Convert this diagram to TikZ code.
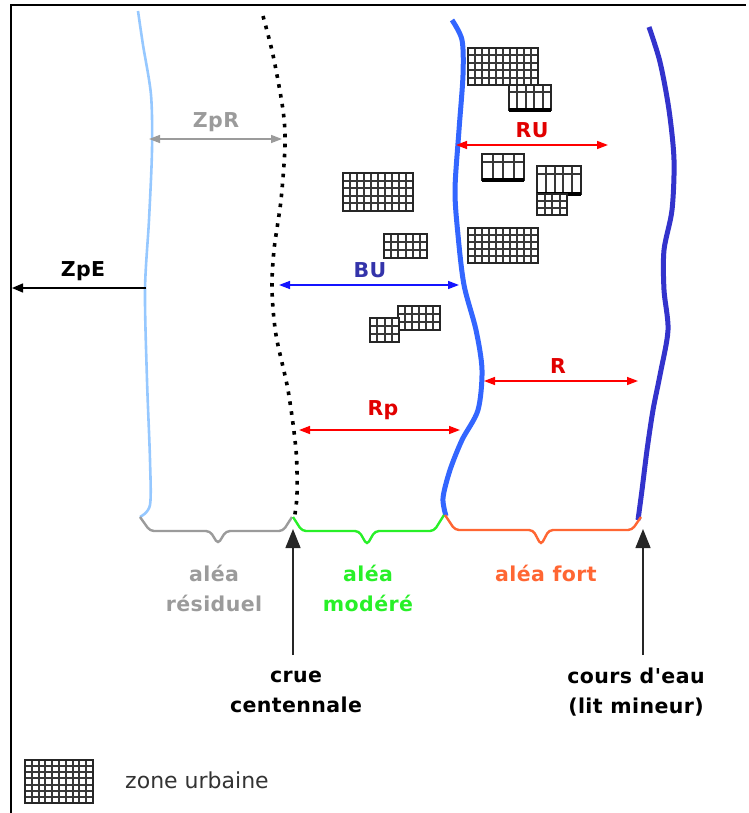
\documentclass[tikz,border=0pt]{standalone}
\usepackage{fontspec}
\setmainfont{DejaVu Sans}
\newfontfamily\lblfont[LetterSpace=2]{DejaVu Sans}
\usetikzlibrary{arrows.meta}
\definecolor{lblue}{RGB}{150,200,255}
\definecolor{mblue}{RGB}{51,102,255}
\definecolor{dblue}{RGB}{51,51,204}
\definecolor{bublue}{RGB}{20,20,255}
\definecolor{butext}{RGB}{51,51,170}
\definecolor{zgray}{RGB}{155,155,155}
\definecolor{zgreen}{RGB}{40,240,40}
\definecolor{zorange}{RGB}{255,102,51}
\definecolor{zred}{RGB}{255,0,0}
\definecolor{zredtxt}{RGB}{225,0,0}
\newcommand{\ublk}[6]{%
  \fill[white] (#1,#2) rectangle (#3,#4);
  \foreach \k in {1,...,#5}{\draw[gline] ({#1+(#3-#1)*\k/(#5+1)},#2) -- ({#1+(#3-#1)*\k/(#5+1)},#4);}
  \foreach \k in {1,...,#6}{\draw[gline] (#1,{#2+(#4-#2)*\k/(#6+1)}) -- (#3,{#2+(#4-#2)*\k/(#6+1)});}
  \draw[gborder] (#1,#2) rectangle (#3,#4);}
\newcommand{\ublkc}[5]{%
  \fill[white] (#1,#2) rectangle (#3,#4);
  \foreach \k in {1,...,#5}{\draw[gline] ({#1+(#3-#1)*\k/(#5+1)},#2) -- ({#1+(#3-#1)*\k/(#5+1)},#4);}
  \draw[gline] (#1,{#2+(#4-#2)*0.3}) -- (#3,{#2+(#4-#2)*0.3});
  \draw[gborder] (#1,#2) rectangle (#3,#4);
  \draw[line width=3.2pt,black] (#1,#4) -- (#3,#4);}
\begin{document}
\begin{tikzpicture}[x=1pt,y=-1pt,
  gline/.style={line width=2pt,black!78},
  gborder/.style={line width=2.2pt,black!85},
  lbl/.style={font=\fontsize{20.5}{30}\lblfont\bfseries, inner sep=0pt, align=center},
  dimarr/.style={line width=1.5pt,{Triangle[length=11pt,width=8pt]}-{Triangle[length=11pt,width=8pt]}},
  brace/.style={line width=2.4pt, rounded corners=4pt},
  uparr/.style={line width=1.3pt,black!85,-{Triangle[length=19pt,width=15pt]}}]
\useasboundingbox (0,0) rectangle (748,813);
% frame
\draw[line width=1.6pt] (11,813) -- (11,5) -- (746,5);

% limits
\draw[lblue, line width=2.6pt] plot[smooth] coordinates {(138,11) (143,45) (151,95) (152,150) (149,220) (145,290) (147,380) (150,460) (150,505) (140,517)};
\draw[black, line width=3.6pt, dash pattern=on 3.6pt off 6.4pt] plot[smooth] coordinates {(263,16) (273,55) (283,110) (285,145) (281,200) (274,250) (272,290) (276,335) (288,390) (296,450) (297,495) (294,520)};
\draw[mblue, line width=5pt] plot[smooth] coordinates {(452,20) (462,40) (463,75) (459,130) (455,190) (458,235) (464,285) (476,330) (482,370) (478,410) (462,440) (450,470) (443,498) (446,516)};
\draw[dblue, line width=5pt] plot[smooth] coordinates {(649,27) (660,62) (669,110) (674,160) (672,210) (664,250) (664,290) (668,330) (660,375) (653,410) (647,450) (642,490) (638,520)};

% urban blocks
\ublk{468}{48}{538}{85}{9}{4}
\ublkc{509}{85}{551}{110}{4}
\ublkc{482}{154}{524}{180}{3}
\ublkc{537}{166}{581}{194}{4}
\ublk{537}{194}{567}{215}{3}{2}
\ublk{468}{228}{538}{263}{9}{4}
\ublk{343}{173}{413}{211}{9}{4}
\ublk{384}{234}{427}{258}{5}{2}
\ublk{398}{306}{440}{330}{5}{2}
\ublk{370}{318}{399}{342}{3}{2}

% dimension arrows
\coordinate (zpeA) at (146,288);
\coordinate (zpeB) at (12,288);
\draw[line width=1.5pt,-{Triangle[length=11pt,width=9pt]}] (zpeA) -- (zpeB);
\node[lbl] (zpe) at (83,271) {ZpE};

\coordinate (zprA) at (149,139);
\coordinate (zprB) at (282,139);
\draw[dimarr,zgray] (zprA) -- (zprB);
\node[lbl,text=zgray] (zpr) at (216,122) {ZpR};

\coordinate (buA) at (279,285);
\coordinate (buB) at (459,285);
\draw[dimarr,bublue] (buA) -- (buB);
\node[lbl,text=butext] (bu) at (370,270) {BU};

\coordinate (ruA) at (456,145);
\coordinate (ruB) at (608,145);
\draw[dimarr,zred] (ruA) -- (ruB);
\node[lbl,text=zredtxt] (ru) at (532,130) {RU};

\coordinate (rA) at (484,381);
\coordinate (rB) at (638,381);
\draw[dimarr,zred] (rA) -- (rB);
\node[lbl,text=zredtxt] (r) at (558,366) {R};

\coordinate (rpA) at (299,430);
\coordinate (rpB) at (460,430);
\draw[dimarr,zred] (rpA) -- (rpB);
\node[lbl,text=zredtxt] (rp) at (383,410) {Rp};

% braces
\draw[brace,zgray] (140,517) -- (150,531) -- (210,531) -- (218,544) -- (226,531) -- (283,531) -- (292,517);
\draw[brace,zgreen] (293,517) -- (302,531) -- (359,531) -- (367,545) -- (375,531) -- (434,531) -- (444,515);
\draw[brace,zorange] (445,515) -- (455,530) -- (533,530) -- (541,545) -- (549,530) -- (632,530) -- (641,517);

\node[lbl,text=zgray] (residuel) at (214,588) {aléa\\résiduel};
\node[lbl,text=zgreen] (modere) at (368,588) {aléa\\modéré};
\node[lbl,text=zorange] (fort) at (546,573) {aléa fort};

% pointers
\coordinate (crueB) at (293,655);
\coordinate (crueT) at (293,529);
\draw[uparr] (crueB) -- (crueT);
\node[lbl] (crue) at (296,692) {crue\\centennale};

\coordinate (coursB) at (643,655);
\coordinate (coursT) at (643,529);
\draw[uparr] (coursB) -- (coursT);
\node[lbl] (cours) at (636,692) {cours d'eau\\(lit mineur)};

% legend
\ublk{25}{760}{93}{803}{9}{6}
\node[font=\fontsize{22}{26}\selectfont, text=black!80, inner sep=0pt] (legend) at (197,780) {zone urbaine};
\end{tikzpicture}
\end{document}
